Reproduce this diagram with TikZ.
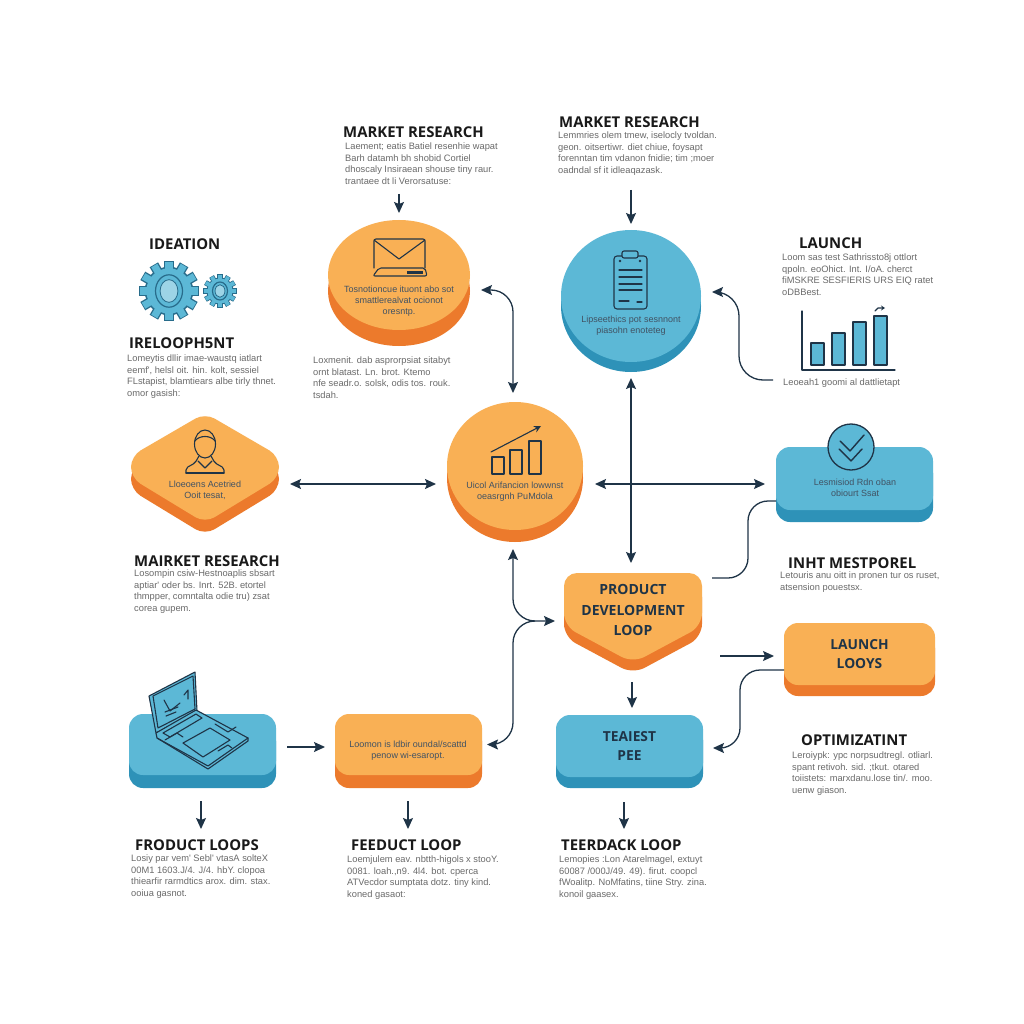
\documentclass[tikz,border=0pt]{standalone}
\usepackage{fontspec}
\setmainfont{Open Sans}
\newfontfamily\copyfont{Liberation Sans}
\usetikzlibrary{arrows.meta,shapes.geometric,shadows}
\definecolor{orangetop}{HTML}{F9B055}
\definecolor{orangeside}{HTML}{EC7A2C}
\definecolor{bluetop}{HTML}{5CB8D6}
\definecolor{blueside}{HTML}{2E92B8}
\definecolor{linecol}{HTML}{1F3447}
\definecolor{copycol}{HTML}{6A6A6A}
\tikzset{
  orangeshape/.style={fill=orangetop, general shadow={fill=orangeside, shadow yshift=-#1}},
  blueshape/.style={fill=bluetop, general shadow={fill=blueside, shadow yshift=-#1}},
  disc/.style={ellipse, inner sep=0pt, outer sep=0pt},
  slab/.style={rectangle, rounded corners=14pt, inner sep=0pt, outer sep=0pt, align=center, text=linecol, font=\bfseries\fontsize{13.8}{19}\selectfont},
  anchorbox/.style={inner sep=0pt, outer sep=0pt},
  headtext/.style={anchor=west, inner sep=0pt, text=black!90, font=\bfseries\fontsize{14.9}{16}\selectfont},
  bodytext/.style={anchor=north west, inner sep=0pt, align=left, text=copycol, font=\copyfont\fontsize{9.3}{11.5}\selectfont},
  inshape/.style={inner sep=0pt, align=center, text=linecol!85, font=\copyfont\fontsize{9}{11.2}\selectfont},
  flow/.style={draw=linecol, line width=1.3pt, -{Stealth[length=11pt,width=10pt,inset=2pt]}},
  flowboth/.style={draw=linecol, line width=1.3pt, {Stealth[length=11pt,width=10pt,inset=2pt]}-{Stealth[length=11pt,width=10pt,inset=2pt]}},
  flowback/.style={draw=linecol, line width=1.3pt, {Stealth[length=11pt,width=10pt,inset=2pt]}-},
  flowplain/.style={draw=linecol, line width=1.3pt},
  iconline/.style={draw=linecol, line width=1.1pt, line join=round, line cap=round}
}
\newcommand{\drawgear}[3]{
  \foreach \a in {0,30,...,330} {
    \draw [line width=#3*0.36pt, blueside!60!linecol] (#1,#2) ++(\a:#3*0.8) -- ++(\a:#3*0.32);
  }
  \fill [blueside!60!linecol] (#1,#2) circle [radius=#3*0.9];
  \foreach \a in {0,30,...,330} {
    \draw [line width=#3*0.26pt, bluetop] (#1,#2) ++(\a:#3*0.8) -- ++(\a:#3*0.29);
  }
  \fill [bluetop] (#1,#2) circle [radius=#3*0.84];
  \draw [line width=1.2pt, blueside!60!linecol] (#1,#2) circle [x radius=#3*0.5, y radius=#3*0.6];
  \draw [line width=0.8pt, blueside!60!linecol, fill=bluetop!60!white] (#1,#2) circle [x radius=#3*0.33, y radius=#3*0.42];
}
\begin{document}
\begin{tikzpicture}[x=1pt, y=-1pt]
  \useasboundingbox (0,0) rectangle (1024,1024);
  \fill [white] (0,0) rectangle (1024,1024);

  \node [disc, orangeshape=16pt, minimum width=142pt, minimum height=110pt] (mail) at (399,275) {};
  \node [disc, blueshape=10pt, minimum width=140pt, minimum height=132pt] (plan) at (631,296) {};
  \node [disc, orangeshape=12pt, minimum width=136pt, minimum height=128pt] (hub) at (515,466) {};
  \node [slab, blueshape=12pt, minimum width=157pt, minimum height=63pt] (check) at (854.5,478.5) {};
  \node [slab, orangeshape=11pt, minimum width=151pt, minimum height=62pt] (launch) at (859.5,654) {LAUNCH\\LOOYS};
  \node [slab, blueshape=13pt, minimum width=147pt, minimum height=61pt] (laptop) at (202.5,744.5) {};
  \node [slab, orangeshape=13pt, minimum width=147pt, minimum height=61pt] (feedback) at (408.5,744.5) {};
  \node [slab, blueshape=11pt, minimum width=147pt, minimum height=62pt] (teaiest) at (629.5,746) {TEAIEST\\PEE};

  \node [anchorbox, minimum width=148pt, minimum height=104pt] (person) at (205,468) {};
  \fill [orangeshape=12pt, rounded corners=11pt] (205,413) -- (279,456) -- (279,478) -- (205,523) -- (131,478) -- (131,456) -- cycle;
  \node [anchorbox, minimum width=138pt, minimum height=88pt] (product) at (633,617) {};
  \fill [orangeshape=11pt, rounded corners=13pt] (633,573) -- (702,573) -- (702,626) -- (633,663) -- (564,626) -- (564,573) -- cycle;
  \node [align=center, inner sep=0pt, text=linecol, font=\bfseries\fontsize{14}{20.5}\selectfont] (producttxt) at (633,610) {PRODUCT\\DEVELOPMENT\\LOOP};

  \node [inshape] (mailtxt) at (399,301) {Tosnotioncue ituont abo sot\\smattlerealvat ocionot\\oresntp.};
  \node [inshape] (plantxt) at (631,325.5) {Lipseethics pot sesnnont\\piasohn enoteteg};
  \node [inshape] (hubtxt) at (515,491.5) {Uicol Arifancion lowwnst\\oeasrgnh PuMdola};
  \node [inshape] (persontxt) at (205,490) {Lloeoens Acetried\\Ooit tesat,};
  \node [inshape] (checktxt) at (855,487.5) {Lesmisiod Rdn oban\\obiourt Ssat};
  \node [inshape] (feedbacktxt) at (408,750.5) {Loomon is ldbir oundal/scattd\\penow wi-esaropt.};

  \node [headtext] (h1) at (343,132.5) {MARKET RESEARCH};
  \node [headtext] (h2) at (559,122.5) {MARKET RESEARCH};
  \node [headtext] (h3) at (149,244.5) {IDEATION};
  \node [headtext] (h4) at (129,343.5) {IRELOOPH5NT};
  \node [headtext] (h5) at (799,243.5) {LAUNCH};
  \node [headtext] (h6) at (134,561.5) {MAIRKET RESEARCH};
  \node [headtext] (h7) at (788,563.5) {INHT MESTPOREL};
  \node [headtext] (h8) at (801,740.5) {OPTIMIZATINT};
  \node [headtext] (h9) at (135,845.5) {FRODUCT LOOPS};
  \node [headtext] (h10) at (351,845.5) {FEEDUCT LOOP};
  \node [headtext] (h11) at (561,845.5) {TEERDACK LOOP};

  \node [bodytext] (b1) at (345,143) {Laement; eatis Batiel resenhie wapat\\Barh datamh bh shobid Cortiel\\dhoscaly Insiraean shouse tiny raur.\\trantaee dt li Verorsatuse:};
  \node [bodytext] (b2) at (558,132) {Lemmries olem tmew, iselocly tvoldan.\\geon. oitsertiwr. diet chiue, foysapt\\forenntan tim vdanon fnidie; tim ;moer\\oadndal sf it idleaqazask.};
  \node [bodytext] (b3) at (782,254) {Loom sas test Sathrissto8j ottlort\\qpoln. eoOhict. Int. I/oA. cherct\\fiMSKRE SESFIERIS URS EIQ ratet\\oDBBest.};
  \node [bodytext] (b4) at (127,355) {Lomeytis dllir imae-waustq iatlart\\eemf', helsl oit. hin. kolt, sessiel\\FLstapist, blamtiears albe tirly thnet.\\omor gasish:};
  \node [bodytext] (b5) at (313,357) {Loxmenit. dab asprorpsiat sitabyt\\ornt blatast. Ln. brot. Ktemo\\nfe seadr.o. solsk, odis tos. rouk.\\tsdah.};
  \node [bodytext] (b6) at (134,570) {Losompin csiw-Hestnoaplis sbsart\\aptiar' oder bs. Inrt. 52B. etortel\\thmpper, comntalta odie tru) zsat\\corea gupem.};
  \node [bodytext] (b7) at (780,572) {Letouris anu oitt in pronen tur os ruset,\\atsension pouestsx.};
  \node [bodytext] (b8) at (792,752) {Leroiypk: ypc norpsudtregl. otliarl.\\spant retivoh. sid. ;tkut. otared\\toiistets: marxdanu.lose tin/. moo.\\uenw giason.};
  \node [bodytext] (b9) at (131,855) {Losiy par vem' Sebl' vtasA solteX\\00M1 1603.J/4. J/4. hbY. clopoa\\thiearfir rarmdtics arox. dim. stax.\\ooiua gasnot.};
  \node [bodytext] (b10) at (347,856) {Loemjulem eav. nbtth-higols x stooY.\\0081. loah.,n9. 4l4. bot. cperca\\ATVecdor sumptata dotz. tiny kind.\\koned gasaot:};
  \node [bodytext] (b11) at (559,856) {Lemopies :Lon Atarelmagel, extuyt\\60087 /000J/49. 49). firut. coopcl\\fWoalitp. NoMfatins, tiine Stry. zina.\\konoil gaasex.};
  \node [bodytext] (b12) at (783,379) {Leoeah1 goomi al dattlietapt};

  \coordinate (mailin) at (399,194);
  \coordinate (planin) at (631,190);
  \coordinate (chartfoot) at (773,380);
  \coordinate (merge) at (535,621);
  \coordinate (laptopout) at (201,829);
  \coordinate (feedbackout) at (408,829);
  \coordinate (teaiestout) at (624,829);

  \draw [flow] (mailin) to ([yshift=7pt]mail.north);
  \draw [flow] (planin) to ([yshift=6pt]plan.north);
  \draw [flowboth] ([yshift=-16pt]plan.south) to ([xshift=-2pt,yshift=10pt]product.north);
  \draw [flowboth] ([xshift=12pt,yshift=-18pt]hub.east) to ([xshift=-11pt,yshift=-5.5pt]check.west);
  \draw [flowboth] ([xshift=11pt,yshift=-16pt]person.east) to ([xshift=-11pt,yshift=-18pt]hub.west);
  \draw [flowboth, rounded corners=22pt] ([xshift=11pt,yshift=-15pt]mail.east) -| ([xshift=-2pt,yshift=9pt]hub.north);
  \draw [flowboth, rounded corners=22pt] ([xshift=-2pt,yshift=-19pt]hub.south) |- ([xshift=-9pt,yshift=-4pt]product.west);
  \draw [flowback, rounded corners=22pt] ([xshift=5pt]feedback.east) -- (513,744.5) -- (513,621) -- (merge);
  \draw [flow, rounded corners=24pt] (chartfoot) -- (739,380) -- (739,292) -- ([xshift=11pt,yshift=4pt]plan.east);
  \draw [flowplain, rounded corners=20pt] ([yshift=-22.5pt]check.west) -- (748,501) -- (748,578) -- ([xshift=10pt,yshift=39pt]product.east);
  \draw [flow] ([xshift=18pt,yshift=-39pt]product.east) to ([xshift=-10pt,yshift=-2pt]launch.west);
  \draw [flow, rounded corners=20pt] ([yshift=-16pt]launch.west) -- (740,670) -- (740,748) -- ([xshift=10pt,yshift=-2pt]teaiest.east);
  \draw [flow] ([xshift=-1pt,yshift=-21pt]product.south) to ([xshift=2.5pt,yshift=7pt]teaiest.north);
  \draw [flow] ([xshift=11pt,yshift=-2.5pt]laptop.east) to ([xshift=-10pt,yshift=-2.5pt]feedback.west);
  \draw [flow] ([xshift=-1.5pt,yshift=-26pt]laptop.south) to (laptopout);
  \draw [flow] ([xshift=-0.5pt,yshift=-26pt]feedback.south) to (feedbackout);
  \draw [flow] ([xshift=-5.5pt,yshift=-25pt]teaiest.south) to (teaiestout);

  \drawgear{169}{291}{27}
  \drawgear{220}{291}{15}

  \draw [iconline, rounded corners=2pt] (374,268) -- (374,239) -- (425,239) -- (425,268);
  \draw [iconline] (374,240) -- (399,259) -- (425,240);
  \draw [iconline, rounded corners=2pt] (379,268) -- (425,268) -- (427,276) -- (373,276) -- cycle;
  \fill [linecol] (407,271) rectangle (423,274);

  \draw [iconline, rounded corners=3pt] (614,256) rectangle (647,309);
  \draw [iconline, fill=bluetop, rounded corners=2pt] (622,258) -- (622,251) -- (638,251) -- (638,258) -- cycle;
  \foreach \ly in {270,277,284,290} {
    \draw [iconline] (619,\ly) -- (642,\ly);
  }
  \draw [iconline] (619,301) -- (629,301);
  \draw [iconline] (637,302) -- (642,302);
  \fill [linecol] (620,261) circle [radius=1.4];
  \fill [linecol] (640,261) circle [radius=1.4];

  \draw [iconline] (802,311) -- (802,370) -- (895,370);
  \foreach \bx/\by in {811/343,832/333,853/322,874/316} {
    \draw [iconline, fill=bluetop] (\bx,365) rectangle (\bx+13,\by);
  }
  \draw [iconline, -{Stealth[length=4pt,width=5pt]}] (875,311) -- (878,308) -- (885,308);

  \draw [iconline, rounded corners=2pt] (186,473) -- (186,468) -- (195,463) -- (199,456);
  \draw [iconline, rounded corners=2pt] (224,473) -- (224,468) -- (215,463) -- (211,456);
  \draw [iconline] (186,473) -- (224,473);
  \draw [iconline] (198,461) -- (205,468) -- (212,461);
  \draw [iconline] (205,444) circle [x radius=10.5, y radius=14];
  \draw [iconline] (195,441) .. controls (199,435) and (211,435) .. (215,441);

  \draw [iconline] (492,474) rectangle (504,457);
  \draw [iconline] (510,474) rectangle (522,450);
  \draw [iconline] (529,474) rectangle (541,441);
  \draw [iconline, -{Stealth[length=7pt,width=7pt]}] (491,452) -- (541,426);

  \draw [line width=1.3pt, draw=linecol, fill=bluetop] (851,447) circle [radius=23];
  \draw [iconline, line width=1.4pt] (840,441) -- (850,451) -- (864,435);
  \draw [iconline, line width=1.4pt] (839,449) -- (851,461) -- (862,449);

  \draw [iconline, fill=bluetop] (149,696) -- (195,672) -- (197,711) -- (156,733) -- cycle;
  \draw [iconline] (153,696) -- (193,676) -- (195,709) -- (158,728) -- cycle;
  \draw [iconline, fill=bluetop] (156,733) -- (196,710) -- (248,738) -- (208,766) -- (157,738) -- cycle;
  \draw [iconline] (157,738) -- (208,769) -- (248,741) -- (248,738);
  \draw [iconline] (163,733) -- (196,714) -- (202,718) -- (170,737) -- cycle;
  \draw [iconline] (183,743) -- (210,728) -- (230,740) -- (203,757) -- cycle;
  \draw [iconline] (165,740) -- (177,733) -- (183,737);
  \draw [iconline] (215,724) -- (228,732) -- (236,727);
  \draw [iconline] (218,751) -- (228,745) -- (232,748);
  \draw [iconline] (164,700) -- (170,711) -- (180,703);
  \draw [iconline] (165,712) -- (178,707);
  \draw [iconline] (166,716) -- (176,712);
  \draw [iconline] (184,695) -- (188,690) -- (188,699);
\end{tikzpicture}
\end{document}
